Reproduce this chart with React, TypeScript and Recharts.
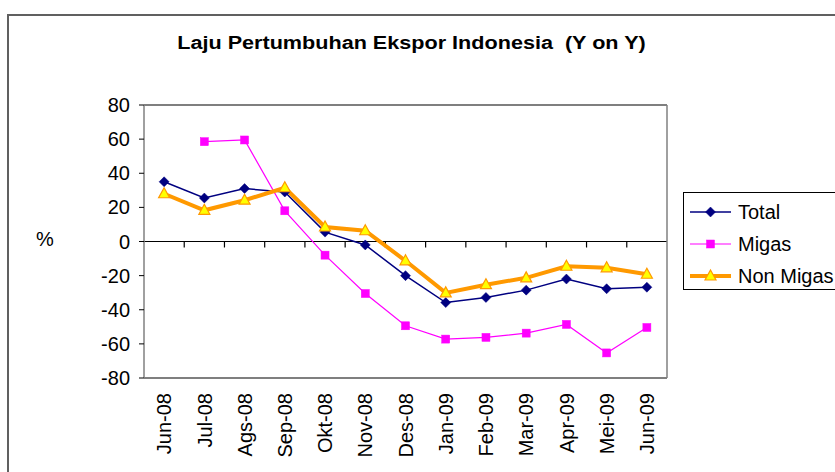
import React from "react";
import { LineChart, Line, XAxis, YAxis, CartesianGrid, ReferenceLine } from "recharts";

const categories = ["Jun-08", "Jul-08", "Ags-08", "Sep-08", "Okt-08", "Nov-08", "Des-08", "Jan-09", "Feb-09", "Mar-09", "Apr-09", "Mei-09", "Jun-09"];
const totalValues = [35, 25.5, 31, 29, 5.5, -2, -20, -35.8, -32.8, -28.5, -22, -27.7, -26.8];
const migasValues: (number | null)[] = [null, 58.5, 59.5, 18, -8, -30.5, -49.4, -57.2, -56.2, -53.7, -48.6, -65.3, -50.4];
const nonMigasValues = [28, 18.3, 24.2, 31.5, 8.5, 6.3, -11.3, -30.1, -25.3, -21.3, -14.5, -15.4, -19.2];
const yTicks = [-80, -60, -40, -20, 0, 20, 40, 60, 80];

const data = categories.map((c, i) => ({
  name: c,
  total: totalValues[i],
  migas: migasValues[i],
  nonMigas: nonMigasValues[i],
}));

const FONT = "'Liberation Sans', Arial, sans-serif";
const NAVY = "#000080";
const MAGENTA = "#FF00FF";
const ORANGE = "#FF9900";
const YELLOW = "#FFFF00";

const Diamond = ({ cx, cy }: { cx: number; cy: number }) => (
  <polygon points={`${cx},${cy - 5} ${cx + 5},${cy} ${cx},${cy + 5} ${cx - 5},${cy}`} fill={NAVY} stroke={NAVY} strokeWidth={0.5} />
);
const Square = ({ cx, cy }: { cx: number; cy: number }) => (
  <rect x={cx - 4} y={cy - 4} width={8} height={8} fill={MAGENTA} stroke={MAGENTA} strokeWidth={0.5} />
);
const Triangle = ({ cx, cy }: { cx: number; cy: number }) => (
  <polygon points={`${cx},${cy - 6} ${cx + 5.5},${cy + 4} ${cx - 5.5},${cy + 4}`} fill={YELLOW} stroke={ORANGE} strokeWidth={1.2} />
);

const makeDot = (Shape: any) => (props: any) => {
  const { cx, cy, key, index } = props;
  if (cy == null || cx == null || isNaN(cy)) return <g key={key ?? index} />;
  return (
    <g key={key ?? index}>
      <Shape cx={cx} cy={cy} />
    </g>
  );
};

const series = [
  { key: "total", label: "Total", color: NAVY, width: 1.5, shape: Diamond },
  { key: "migas", label: "Migas", color: MAGENTA, width: 1.2, shape: Square },
  { key: "nonMigas", label: "Non Migas", color: ORANGE, width: 4, shape: Triangle },
];

const XTick = (props: any) => {
  const { x, payload } = props;
  return (
    <text
      transform={`translate(${x},393) rotate(-90)`}
      textAnchor="end"
      dy="0.36em"
      fontSize={20}
      fontFamily={FONT}
      fill="#000"
    >
      {payload.value}
    </text>
  );
};

const ZeroAxis = (props: any) => {
  const { x1, x2, y1 } = props;
  const n = categories.length;
  const step = (x2 - x1) / n;
  const ticks = [];
  for (let i = 1; i < n; i++) {
    const x = x1 + step * i;
    ticks.push(<line key={i} x1={x} x2={x} y1={y1} y2={y1 + 6} stroke="#000" strokeWidth={1.2} />);
  }
  return (
    <g>
      <line x1={x1} x2={x2} y1={y1} y2={y1} stroke="#000" strokeWidth={1.2} />
      {ticks}
    </g>
  );
};

export default function App() {
  return (
    <div style={{ position: "absolute", left: 0, top: 0, width: 835, height: 472, overflow: "hidden", background: "#fff" }}>
      <div style={{ position: "absolute", left: 7, top: 14, width: 1000, height: 1000, border: "2px solid #606060" }} />
      <div
        style={{
          position: "absolute",
          left: 0,
          width: 823,
          top: 33,
          textAlign: "center",
          fontFamily: FONT,
          fontWeight: "bold",
          fontSize: 18,
          whiteSpace: "pre",
          color: "#000",
          transform: "scaleX(1.2)",
          transformOrigin: "411.5px 0",
        }}
      >
        {"Laju Pertumbuhan Ekspor Indonesia  (Y on Y)"}
      </div>
      <div style={{ position: "absolute", left: 36, top: 228, fontFamily: FONT, fontSize: 20, color: "#000" }}>%</div>
      <div style={{ position: "absolute", left: 0, top: 0 }}>
        <LineChart width={835} height={472} data={data} margin={{ top: 105, left: 84, right: 167, bottom: 14 }}>
          <CartesianGrid horizontal={true} vertical={false} stroke="#000" strokeWidth={1.2} />
          <XAxis
            dataKey="name"
            scale="band"
            height={80}
            axisLine={false}
            tickLine={false}
            tick={<XTick />}
            interval={0}
          />
          <YAxis
            yAxisId="left"
            width={60}
            domain={[-80, 80]}
            ticks={yTicks}
            interval={0}
            axisLine={{ stroke: "#808080", strokeWidth: 1.5 }}
            tickLine={{ stroke: "#000", strokeWidth: 1 }}
            tickSize={5}
            tickMargin={9}
            tick={{ fontSize: 20, fontFamily: FONT, fill: "#000" }}
          />
          <YAxis
            yAxisId="right"
            orientation="right"
            width={1}
            domain={[-80, 80]}
            ticks={yTicks}
            tick={false}
            tickLine={false}
            axisLine={{ stroke: "#808080", strokeWidth: 1.5 }}
          />
          <ReferenceLine yAxisId="left" y={0} shape={<ZeroAxis />} />
          {series.map((s) => (
            <Line
              key={s.key}
              yAxisId="left"
              type="linear"
              dataKey={s.key}
              stroke={s.color}
              strokeWidth={s.width}
              dot={makeDot(s.shape)}
              activeDot={false}
              isAnimationActive={false}
            />
          ))}
        </LineChart>
      </div>
      <div
        style={{
          position: "absolute",
          left: 683,
          top: 192,
          width: 200,
          height: 96,
          border: "1.5px solid #000",
          background: "#fff",
        }}
      />
      <svg style={{ position: "absolute", left: 0, top: 0 }} width={835} height={472}>
        {series.map((s, i) => {
          const y = 212 + i * 32;
          const S = s.shape;
          return (
            <g key={s.key}>
              <line x1={690} x2={731} y1={y} y2={y} stroke={s.color} strokeWidth={s.width} />
              <S cx={710.5} cy={y} />
              <text x={738} y={y} dy="0.36em" fontSize={20} fontFamily={FONT} fill="#000">
                {s.label}
              </text>
            </g>
          );
        })}
      </svg>
    </div>
  );
}
